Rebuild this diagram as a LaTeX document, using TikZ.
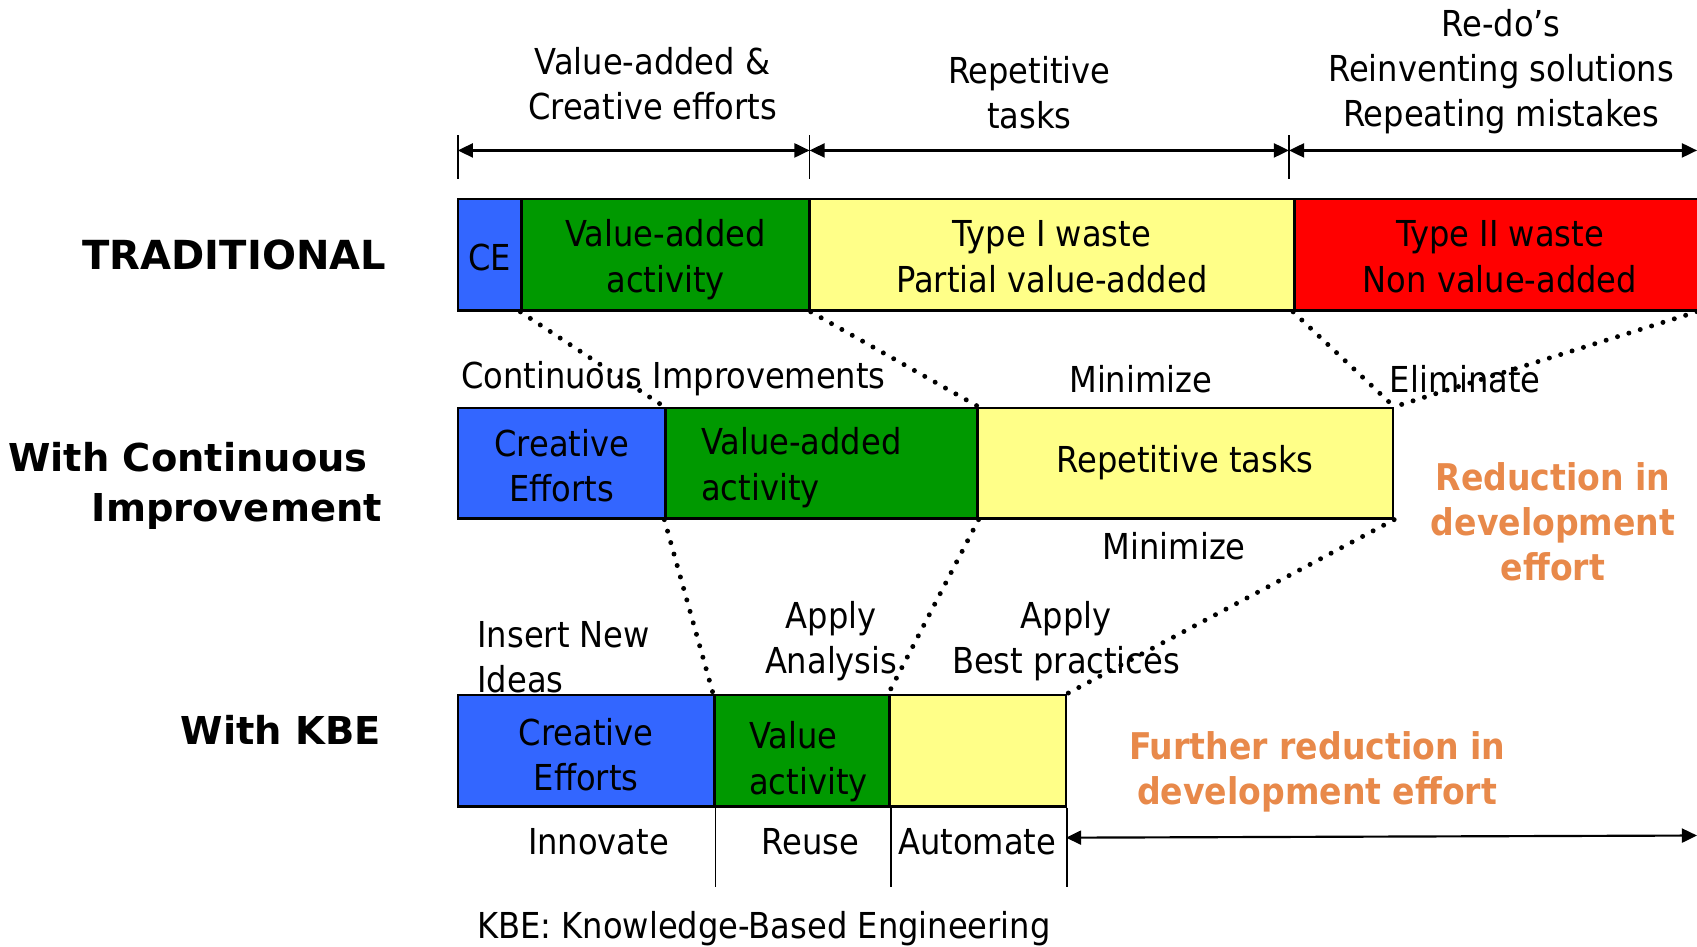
\documentclass[tikz,border=0pt]{standalone}
\usepackage{fontspec}
\setmainfont{DejaVu Sans Condensed}
\newfontfamily\lblfont{DejaVu Sans}
\usetikzlibrary{arrows.meta}
\definecolor{cblue}{RGB}{51,102,255}
\definecolor{cgreen}{RGB}{0,153,0}
\definecolor{cyellow}{RGB}{255,255,136}
\definecolor{cred}{RGB}{255,0,0}
\definecolor{corange}{RGB}{232,137,74}
\newcommand\segc[2][-5pt]{\raisebox{#1}[\height][\depth]{\begin{tabular}{@{}c@{}}#2\end{tabular}}}
\newcommand\segl[2][-5pt]{\raisebox{#1}[\height][\depth]{\begin{tabular}{@{}l@{}}#2\end{tabular}}}
\tikzset{
  seg/.style={draw, line width=2.3pt, minimum height=103pt, inner sep=0pt, align=center, font=\fontsize{33}{42}\selectfont},
  lefttext/.style={align=left, inner xsep=33pt},
  dots/.style={line width=4.6pt, dash pattern=on 0pt off 11pt, line cap=round},
  txt/.style={inner sep=0pt, align=center, font=\fontsize{33}{41.5}\selectfont},
  rowlbl/.style={inner sep=0pt, align=right, anchor=east, font=\lblfont\bfseries\fontsize{35.5}{46}\selectfont},
  orangetxt/.style={inner sep=0pt, align=center, text=corange, font=\bfseries\fontsize{34}{41.5}\selectfont},
  dimarrow/.style={line width=2pt, {Triangle[length=14pt,width=13pt]}-{Triangle[length=14pt,width=13pt]}},
  tickline/.style={line width=1.6pt}
}
\begin{document}
\begin{tikzpicture}[x=1pt,y=-1pt]
\useasboundingbox (0,0) rectangle (1568,875);
\clip (0,0) rectangle (1568,875);

% top dimension labels
\node[txt] (lva) at (603,77) {Value-added \&\\Creative efforts};
\node[txt] (lrep) at (951,86) {Repetitive\\tasks};
\node[txt] (lredo) at (1387,66) {Re-do’s\\Reinventing solutions\\Repeating mistakes};

% ticks and dimension arrows
\draw[tickline] (423,125) -- (423,165);
\draw[tickline] (748,125) -- (748,165);
\draw[tickline] (1191,125) -- (1191,165);
\coordinate (t0) at (423,139);
\coordinate (t1) at (748,139);
\coordinate (t2) at (1191,139);
\coordinate (t3) at (1568,139);
\draw[dimarrow] (t0) -- (t1);
\draw[dimarrow] (t1) -- (t2);
\draw[dimarrow] (t2) -- (t3);

% row labels
\node[rowlbl, font=\lblfont\bfseries\fontsize{37}{46}\selectfont] (rtrad) at (357,236) {TRADITIONAL};
\node[rowlbl] (rci) at (353,449) {With Continuous\hspace*{13pt}\\Improvement};
\node[rowlbl] (rkbe) at (352,674) {With KBE};

% row 1
\node[seg, fill=cblue, minimum width=59pt] (ce1) at (452.5,235.5) {\segc[-6pt]{CE}};
\node[seg, fill=cgreen, minimum width=266pt] (va1) at (615,235.5) {\segc{Value-added\\activity}};
\node[seg, fill=cyellow, minimum width=448pt] (t1b) at (972,235.5) {\segc{Type I waste\\Partial value-added}};
\node[seg, fill=cred, minimum width=380pt] (t2b) at (1386,235.5) {\segc{Type II waste\\Non value-added}};
\coordinate (redr) at (1568,288);

% row 2
\node[seg, fill=cblue, minimum width=192pt, minimum height=102pt] (ce2) at (519,428) {\segc[-6pt]{Creative\\Efforts}};
\node[seg, fill=cgreen, minimum width=288pt, minimum height=102pt, lefttext, text width=222pt] (va2) at (759,428) {\segl[-5pt]{Value-added\\activity}};
\node[seg, fill=cyellow, minimum width=384pt, minimum height=102pt] (rt2) at (1095,428) {\segc[0pt]{Repetitive tasks}};

% row 3
\node[seg, fill=cblue, minimum width=237pt] (ce3) at (541.5,693.5) {\segc[-7.5pt]{Creative\\Efforts}};
\node[seg, fill=cgreen, minimum width=162pt] (va3) at (741,693.5) {\hspace*{12pt}\segl[-11pt]{Value\\activity}};
\node[seg, fill=cyellow, minimum width=163pt] (y3) at (903.5,693.5) {};

% dotted connectors
\draw[dots] (va1.south west) -- (va2.north west);
\draw[dots] (va1.south east) -- (va2.north east);
\draw[dots] (t2b.south west) -- (rt2.north east);
\draw[dots] (redr) -- (rt2.north east);
\draw[dots] (va2.south west) -- (va3.north west);
\draw[dots] (va2.south east) -- (y3.north west);
\draw[dots] (rt2.south east) -- (y3.north east);

% middle labels
\node[txt, anchor=west] (lci) at (426,350) {Continuous Improvements};
\node[txt] (lmin1) at (1054,350) {Minimize};
\node[txt, anchor=west] (lelim) at (1284,350) {Eliminate};
\node[txt] (lmin2) at (1085,505) {Minimize};
\node[orangetxt] (lred) at (1435,482) {Reduction in\\development\\effort};

\node[txt, anchor=west, align=left] (lins) at (441,607) {Insert New\\Ideas};
\node[txt] (lana) at (768,592) {Apply\\Analysis};
\node[txt] (lbest) at (985,592) {Apply\\Best practices};

% bottom
\draw[tickline] (ce3.south east) -- ++(0,73);
\draw[tickline] (va3.south east) -- ++(0,73);
\draw[tickline] (y3.south east) -- ++(0,73);
\node[txt] (linn) at (553,778) {Innovate};
\node[txt] (lreuse) at (749,778) {Reuse};
\node[txt] (lauto) at (903,778) {Automate};
\coordinate (aL) at (985,774);
\coordinate (aR) at (1568,772);
\draw[dimarrow] (aL) -- (aR);
\node[orangetxt] (lfur) at (1217,713) {Further reduction in\\development effort};
\node[txt, anchor=west] (lkbe) at (441,858) {KBE: Knowledge-Based Engineering};
\end{tikzpicture}
\end{document}
